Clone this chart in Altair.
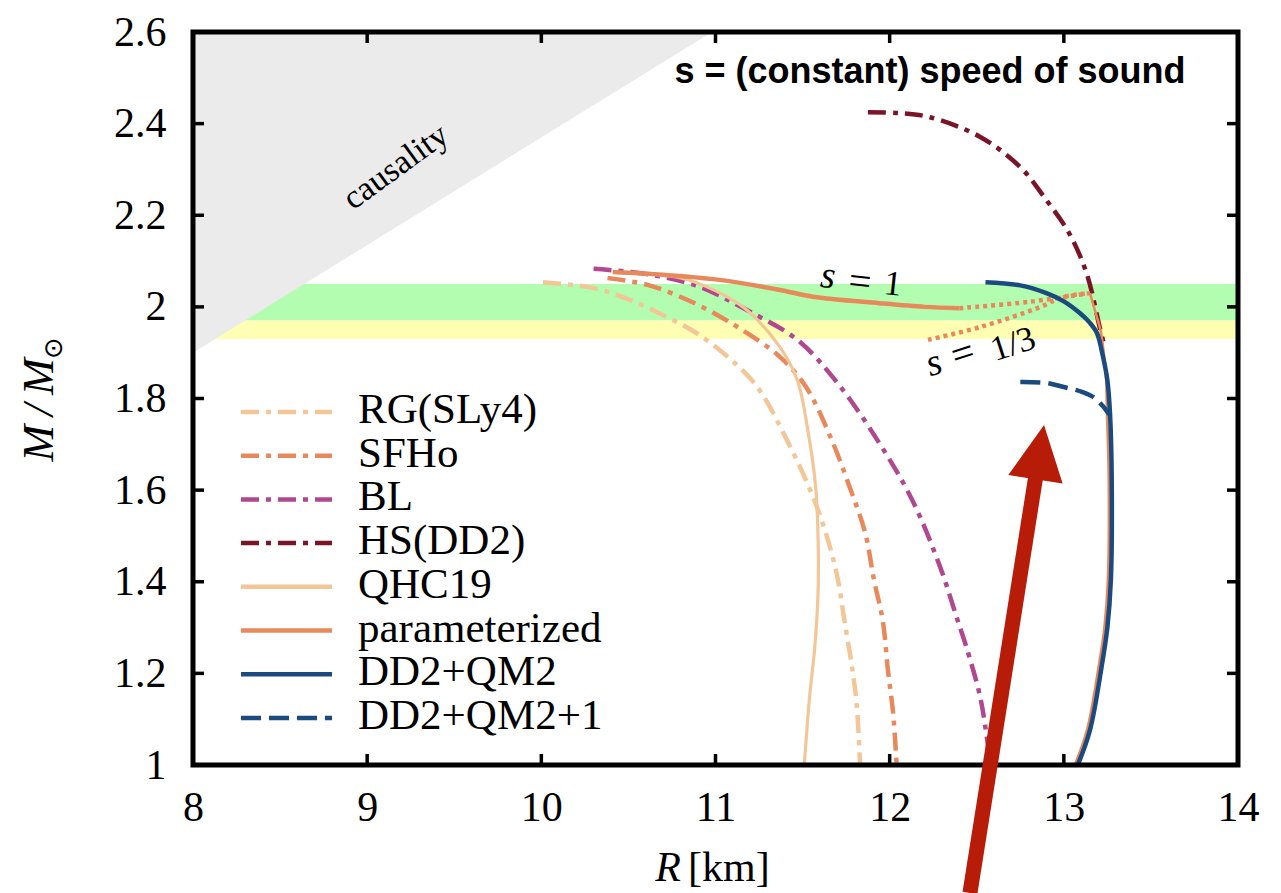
import altair as alt
import pandas as pd

# ---------------- values ----------------
X_TICKS = [8, 9, 10, 11, 12, 13, 14]
Y_TICKS = [1.0, 1.2, 1.4, 1.6, 1.8, 2.0, 2.2, 2.4, 2.6]

# RG(SLy4)
rg_R = [10.01, 10.30, 10.51, 10.72, 10.89, 11.07, 11.24, 11.43, 11.56, 11.64, 11.70, 11.74, 11.78, 11.81, 11.83]
rg_M = [2.054, 2.041, 2.015, 1.978, 1.943, 1.891, 1.825, 1.694, 1.585, 1.498, 1.410, 1.316, 1.223, 1.135, 1.0]
# SFHo
sfho_R = [10.38, 10.61, 10.84, 11.03, 11.18, 11.37, 11.52, 11.66, 11.77, 11.86, 11.91, 11.96, 11.99, 12.02, 12.04]
sfho_M = [2.063, 2.048, 2.015, 1.978, 1.943, 1.891, 1.825, 1.716, 1.607, 1.506, 1.404, 1.316, 1.207, 1.113, 1.0]
# BL
bl_R = [10.30, 10.60, 10.90, 11.18, 11.47, 11.70, 11.94, 12.13, 12.29, 12.39, 12.44, 12.52, 12.56, 12.58]
bl_M = [2.083, 2.072, 2.045, 1.993, 1.928, 1.834, 1.703, 1.578, 1.432, 1.316, 1.258, 1.148, 1.055, 1.0]
# HS(DD2)
hs_R = [11.875, 12.05, 12.23, 12.52, 12.75, 12.90, 13.03, 13.13, 13.21, 13.23]
hs_M = [2.425, 2.423, 2.414, 2.371, 2.305, 2.233, 2.161, 2.074, 1.949, 1.92]
# QHC19
qhc_R = [10.45, 10.80, 10.99, 11.18, 11.37, 11.47, 11.53, 11.575, 11.59, 11.588, 11.57, 11.54, 11.51]
qhc_M = [2.075, 2.063, 2.037, 1.993, 1.912, 1.840, 1.731, 1.607, 1.476, 1.367, 1.257, 1.148, 1.0]
# parameterized: s = 1 branch (solid)
par1_R = [10.41, 10.70, 11.00, 11.37, 11.56, 11.94, 12.20, 12.40]
par1_M = [2.076, 2.070, 2.060, 2.037, 2.022, 2.008, 2.000, 1.997]
# parameterized: dotted connection (upper)
par2_R = [12.40, 12.80, 13.15]
par2_M = [1.997, 2.011, 2.030]
# parameterized: s = 1/3 branch (dotted)
par3_R = [12.22, 12.52, 12.86, 12.99, 13.15]
par3_M = [1.928, 1.956, 1.999, 2.021, 2.030]
# parameterized: hadronic part (thin solid)
par4_R = [13.15, 13.18, 13.21, 13.235, 13.243, 13.248, 13.258, 13.253, 13.233, 13.203, 13.133, 13.063]
par4_M = [2.030, 1.990, 1.950, 1.880, 1.840, 1.768, 1.622, 1.404, 1.300, 1.222, 1.076, 1.0]
# DD2+QM2
dd_R = [12.55, 12.75, 12.90, 13.00, 13.09, 13.15, 13.19, 13.22, 13.25, 13.265, 13.275, 13.27, 13.25, 13.22, 13.15, 13.08]
dd_M = [2.054, 2.047, 2.030, 2.012, 1.987, 1.965, 1.943, 1.900, 1.840, 1.768, 1.622, 1.404, 1.300, 1.222, 1.076, 1.0]
# DD2+QM2+1
dd1_R = [12.75, 12.90, 13.00, 13.10, 13.17, 13.22, 13.26]
dd1_M = [1.836, 1.834, 1.825, 1.815, 1.803, 1.785, 1.765]

# bands and causality region
green_band = [1.97, 2.05]
yellow_band = [1.93, 1.97]
caus_R = [8.0, 10.98]
caus_low = [1.90, 2.60]
caus_high = [2.60, 2.60]

legend_names = ["RG(SLy4)", "SFHo", "BL", "HS(DD2)", "QHC19", "parameterized", "DD2+QM2", "DD2+QM2+1"]

# ---------------- styles ----------------
PEACH = "#f3c698"
ORANGE = "#e8895c"
MAGENTA = "#b0488f"
DARKRED = "#7a1528"
BLUE = "#1b4a7e"
RED = "#b71c08"
DASHDOT = [18, 7, 5, 7]
DASH = [20, 8]
DOT = [4, 4]

legend_colors = [PEACH, ORANGE, MAGENTA, DARKRED, PEACH, ORANGE, BLUE, BLUE]
legend_dashes = [DASHDOT, DASHDOT, DASHDOT, DASHDOT, None, None, None, DASH]

W, H = 1045, 733
SERIF = "Liberation Serif"

xs = alt.Scale(domain=[8, 14], nice=False, zero=False)
ys = alt.Scale(domain=[1, 2.6], nice=False, zero=False)
xaxis = alt.Axis(values=X_TICKS, format="d", labelFlush=False, labelOverlap=False, labelPadding=22)
yaxis = alt.Axis(values=Y_TICKS, format="~g", labelFlush=False, labelOverlap=False, labelPadding=27)


def X(f):
    return alt.X(f"{f}:Q", scale=xs, axis=xaxis, title=None)


def Y(f):
    return alt.Y(f"{f}:Q", scale=ys, axis=yaxis, title=None)


def curve(R, M, color, dash=None, width=4.5, clip=True):
    df = pd.DataFrame({"R": R, "M": M, "i": list(range(len(R)))})
    kw = dict(color=color, strokeWidth=width, clip=clip, interpolate="catmull-rom", strokeCap="butt")
    if dash:
        kw["strokeDash"] = dash
    return alt.Chart(df).mark_line(**kw).encode(x=X("R"), y=Y("M"), order="i:Q")


one = pd.DataFrame({"a": [0]})
layers = []

# bands
bands = pd.DataFrame({"x1": [8, 8], "x2": [14, 14],
                      "y1": [green_band[0], yellow_band[0]], "y2": [green_band[1], yellow_band[1]],
                      "c": ["g", "y"]})
layers.append(alt.Chart(bands).mark_rect().encode(
    x=X("x1"), x2="x2:Q", y=Y("y1"), y2="y2:Q",
    color=alt.Color("c:N", scale=alt.Scale(domain=["g", "y"], range=["#b3fdb0", "#ffffb3"]), legend=None)))

# causality region
caus = pd.DataFrame({"R": caus_R, "lo": caus_low, "hi": caus_high})
layers.append(alt.Chart(caus).mark_area(color="#ebebeb", opacity=1, clip=True).encode(
    x=X("R"), y=Y("lo"), y2="hi:Q"))

layers.append(alt.Chart(pd.DataFrame({"R": [9.165], "M": [2.305], "t": ["causality"]})).mark_text(
    font=SERIF, fontSize=34, angle=324, color="black", align="center", baseline="middle").encode(
    x=X("R"), y=Y("M"), text="t:N"))

# curves
layers += [
    curve(rg_R, rg_M, PEACH, DASHDOT, 4.5),
    curve(sfho_R, sfho_M, ORANGE, DASHDOT, 4.5),
    curve(bl_R, bl_M, MAGENTA, DASHDOT, 4.5),
    curve(hs_R, hs_M, DARKRED, DASHDOT, 4.5),
    curve(qhc_R, qhc_M, PEACH, None, 3.2),
    curve(par1_R, par1_M, ORANGE, None, 4.5),
    curve(par2_R, par2_M, ORANGE, DOT, 4.5),
    curve(par3_R, par3_M, ORANGE, DOT, 4.5),
    curve(par4_R, par4_M, ORANGE, None, 2.6),
    curve(dd_R, dd_M, BLUE, None, 4.5),
    curve(dd1_R, dd1_M, BLUE, DASH, 4.5),
]

# s labels
def label(R, M, t, angle, italic=False, size=34):
    kw = dict(font=SERIF, fontSize=size, angle=angle, color="black", align="center", baseline="middle")
    if italic:
        kw["fontStyle"] = "italic"
    return alt.Chart(pd.DataFrame({"R": [R], "M": [M], "t": [t]})).mark_text(**kw).encode(
        x=X("R"), y=Y("M"), text="t:N")

layers += [
    label(11.646, 2.066, "s", 6, True, 38),
    label(11.830, 2.054, "=", 6, False, 40),
    label(12.019, 2.050, "1", 6, False, 35),
    label(12.254, 1.876, "s", 342, True, 38),
    label(12.421, 1.897, "=", 342, False, 40),
    label(12.708, 1.919, "1/3", 342, False, 35),
]

# title inside the plot
layers.append(alt.Chart(one).mark_text(
    font="Liberation Sans", fontWeight="bold", fontSize=36, color="black", align="center", baseline="middle").encode(
    x=alt.value(737), y=alt.value(40), text=alt.value("s = (constant) speed of sound")))

# manual legend
for i, name in enumerate(legend_names):
    yy = 380 + 43.7 * i
    kw = dict(color=legend_colors[i], strokeWidth=4.5, strokeCap="butt")
    if legend_dashes[i]:
        kw["strokeDash"] = legend_dashes[i]
    layers.append(alt.Chart(one).mark_rule(**kw).encode(
        x=alt.value(48), x2=alt.value(139), y=alt.value(yy)))
    layers.append(alt.Chart(one).mark_text(
        font=SERIF, fontSize=43, color="black", align="left", baseline="middle").encode(
        x=alt.value(165), y=alt.value(yy - 2), text=alt.value(name)))

# border and inward ticks
layers.append(alt.Chart(one).mark_rect(fillOpacity=0, stroke="black", strokeWidth=5).encode(
    x=alt.value(0), x2=alt.value(W), y=alt.value(0), y2=alt.value(H)))
xt = pd.DataFrame({"v": X_TICKS[1:-1]})
yt = pd.DataFrame({"v": Y_TICKS[1:-1]})
layers.append(alt.Chart(xt).mark_rule(color="black", strokeWidth=3.5).encode(x=X("v"), y=alt.value(H), y2=alt.value(H - 11)))
layers.append(alt.Chart(xt).mark_rule(color="black", strokeWidth=3.5).encode(x=X("v"), y=alt.value(0), y2=alt.value(11)))
layers.append(alt.Chart(yt).mark_rule(color="black", strokeWidth=3.5).encode(y=Y("v"), x=alt.value(0), x2=alt.value(11)))
layers.append(alt.Chart(yt).mark_rule(color="black", strokeWidth=3.5).encode(y=Y("v"), x=alt.value(W), x2=alt.value(W - 11)))

# axis titles
layers.append(alt.Chart(one).mark_text(font=SERIF, fontSize=42, fontStyle="italic", color="black",
                                       align="center", baseline="alphabetic").encode(
    x=alt.value(475), y=alt.value(849), text=alt.value("R")))
layers.append(alt.Chart(one).mark_text(font=SERIF, fontSize=42, color="black",
                                       align="left", baseline="alphabetic").encode(
    x=alt.value(495), y=alt.value(849), text=alt.value("[km]")))
layers.append(alt.Chart(one).mark_text(font=SERIF, fontSize=44, fontStyle="italic", color="black",
                                       align="center", baseline="middle", angle=270).encode(
    x=alt.value(-153), y=alt.value(378), text=alt.value("M\u2009/\u2009M")))
layers.append(alt.Chart(one).mark_text(font="DejaVu Sans", fontSize=26, color="black",
                                       align="center", baseline="middle", angle=270).encode(
    x=alt.value(-139), y=alt.value(316), text=alt.value("\u2299")))

# red arrow
arrow_R = [12.461, 12.843]
arrow_M = [0.7206, 1.640]
layers.append(curve(arrow_R, arrow_M, RED, None, 15, clip=False))
layers.append(alt.Chart(pd.DataFrame({"R": [12.837], "M": [1.6236]})).mark_point(
    shape="M0,-1L-0.5,0L0.5,0Z", size=12100, angle=9, filled=True, fill=RED, color=RED,
    strokeWidth=0, opacity=1, clip=False).encode(x=X("R"), y=Y("M")))

chart = alt.layer(*layers).properties(
    width=W, height=H,
    autosize=alt.AutoSizeParams(type="none"),
    padding={"left": 185, "top": 24, "right": 35, "bottom": 128},
).configure_view(strokeWidth=0).configure_axis(
    labelFont=SERIF, labelFontSize=42, labelColor="black", ticks=False, domain=False, grid=False
)

chart.save("out.html", embed_options={"renderer": "svg", "actions": False})
